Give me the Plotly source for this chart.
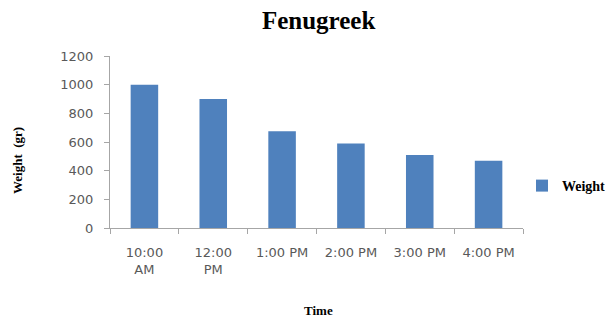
import plotly.graph_objects as go

categories = ["10:00<br>AM", "12:00<br>PM", "1:00 PM", "2:00 PM", "3:00 PM", "4:00 PM"]
weights = [1000, 900, 675, 590, 510, 470]
y_ticks = [0, 200, 400, 600, 800, 1000, 1200]
series_name = "Weight"

# page body adds an 8px margin, so the figure is drawn 8px smaller and all
# reference pixel positions are shifted by -8
OFF = 8
W, H = 616 - OFF, 322 - OFF
L, T = 110 - OFF, 56 - OFF
R = W - (523 - OFF)
B = H - (228 - OFF)
pw, ph = W - L - R, H - T - B

def px_x(x):
    return (x - OFF - L) / pw

def px_y(y):
    return (H - B - (y - OFF)) / ph

fig = go.Figure()
fig.add_trace(go.Bar(
    x=categories, y=weights, name=series_name,
    marker=dict(color="#4F81BD", line=dict(width=0)),
    showlegend=True,
))

tick_font = dict(family="DejaVu Sans", size=13, color="#595959")

fig.update_layout(
    width=W, height=H,
    margin=dict(l=L, r=R, t=T, b=B, autoexpand=False),
    paper_bgcolor="white", plot_bgcolor="white",
    bargap=0.6,
    showlegend=True,
    title=dict(text="Fenugreek", x=px_x(321), xanchor="center",
               y=1 - (20 - OFF) / H, yanchor="middle", yref="container",
               font=dict(family="Liberation Serif", size=25, color="black", weight="bold")),
    legend=dict(x=px_x(522), y=px_y(186), xanchor="left", yanchor="middle",
                font=dict(family="Liberation Serif", size=14, color="black", weight="bold"),
                bgcolor="rgba(0,0,0,0)"),
    xaxis=dict(type="category", showgrid=False, showline=True, linecolor="#A6A6A6",
               linewidth=1, ticks="outside", ticklen=5, tickcolor="#A6A6A6",
               tickson="boundaries", tickfont=tick_font, ticklabelstandoff=12),
    yaxis=dict(range=[0, 1200], tickvals=y_ticks, showgrid=False, showline=True,
               linecolor="#A6A6A6", linewidth=1, ticks="outside", ticklen=5,
               tickcolor="#A6A6A6", tickfont=tick_font, ticklabelstandoff=8,
               zeroline=False),
    annotations=[
        dict(text="<b>Weight  (gr)</b>", xref="paper", yref="paper",
             x=px_x(17), y=px_y(161), xanchor="center", yanchor="middle",
             textangle=-90, showarrow=False,
             font=dict(family="Liberation Serif", size=13, color="black")),
        dict(text="<b>Time</b>", xref="paper", yref="paper",
             x=px_x(318), y=px_y(310), xanchor="center", yanchor="middle",
             showarrow=False,
             font=dict(family="Liberation Serif", size=13, color="black")),
    ],
)

fig.write_html("out.html")
